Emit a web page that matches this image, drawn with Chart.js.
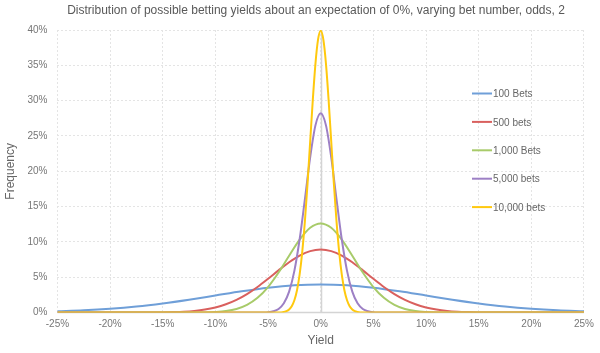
<!DOCTYPE html>
<html>
<head>
<meta charset="utf-8">
<script src="https://cdn.jsdelivr.net/npm/chart.js@4"></script>
<style>
  html, body { margin: 0; padding: 0; background: #fff; }
  #wrap { width: 600px; height: 353px; }
</style>
</head>
<body>
<div id="wrap"><canvas id="myChart"></canvas></div>
<script>
// values (yield %, frequency %)
const chartTitle = 'Distribution of possible betting yields about an expectation of 0%, varying bet number, odds, 2';
const seriesNames = ['100 Bets', '500 bets', '1,000 Bets', '5,000 bets', '10,000 bets'];
const seriesColors = ['#6f9fd8', '#d9605e', '#a8cb6a', '#9d80c5', '#ffc90e'];

const yield100 = [-25, -22.5, -20, -17.5, -15, -12.5, -10, -7.5, -5, -2.5, 0, 2.5, 5, 7.5, 10, 12.5, 15, 17.5, 20, 22.5, 25];
const freq100 = [0.18, 0.32, 0.54, 0.86, 1.30, 1.83, 2.42, 3.01, 3.52, 3.87, 3.99, 3.87, 3.52, 3.01, 2.42, 1.83, 1.30, 0.86, 0.54, 0.32, 0.18];

const yield500 = [-25, -18, -16, -15, -14, -13, -12, -11, -10, -9, -8, -7, -6, -5, -4, -3, -2, -1, 0, 1, 2, 3, 4, 5, 6, 7, 8, 9, 10, 11, 12, 13, 14, 15, 16, 18, 25];
const freq500 = [0, 0, 0.01, 0.03, 0.07, 0.13, 0.24, 0.43, 0.73, 1.18, 1.80, 2.62, 3.63, 4.78, 5.98, 7.12, 8.07, 8.70, 8.92, 8.70, 8.07, 7.12, 5.98, 4.78, 3.63, 2.62, 1.80, 1.18, 0.73, 0.43, 0.24, 0.13, 0.07, 0.03, 0.01, 0, 0];

const yield1000 = [-25, -14, -12, -11, -10, -9, -8, -7, -6, -5, -4, -3, -2, -1, 0, 1, 2, 3, 4, 5, 6, 7, 8, 9, 10, 11, 12, 14, 25];
const freq1000 = [0, 0, 0.01, 0.03, 0.09, 0.22, 0.51, 1.09, 2.09, 3.62, 5.67, 8.05, 10.33, 12.00, 12.62, 12.00, 10.33, 8.05, 5.67, 3.62, 2.09, 1.09, 0.51, 0.22, 0.09, 0.03, 0.01, 0, 0];

const yield5000 = [-25, -7, -6, -5.5, -5, -4.5, -4, -3.5, -3, -2.5, -2, -1.5, -1, -0.5, 0, 0.5, 1, 1.5, 2, 2.5, 3, 3.5, 4, 4.5, 5, 5.5, 6, 7, 25];
const freq5000 = [0, 0, 0, 0.01, 0.05, 0.18, 0.52, 1.32, 2.97, 5.91, 10.38, 16.07, 21.97, 26.50, 28.21, 26.50, 21.97, 16.07, 10.38, 5.91, 2.97, 1.32, 0.52, 0.18, 0.05, 0.01, 0, 0, 0];

const yield10000 = [-25, -5, -4.5, -4, -3.75, -3.5, -3.25, -3, -2.75, -2.5, -2.25, -2, -1.75, -1.5, -1.25, -1, -0.75, -0.5, -0.25, 0, 0.25, 0.5, 0.75, 1, 1.25, 1.5, 1.75, 2, 2.25, 2.5, 2.75, 3, 3.25, 3.5, 3.75, 4, 4.5, 5, 25];
const freq10000 = [0, 0, 0, 0.01, 0.03, 0.09, 0.20, 0.44, 0.91, 1.75, 3.17, 5.40, 8.63, 12.95, 18.26, 24.20, 30.11, 35.21, 38.66, 39.89, 38.66, 35.21, 30.11, 24.20, 18.26, 12.95, 8.63, 5.40, 3.17, 1.75, 0.91, 0.44, 0.20, 0.09, 0.03, 0.01, 0, 0, 0];

const xTicks = [-25, -20, -15, -10, -5, 0, 5, 10, 15, 20, 25];
const yTicks = [0, 5, 10, 15, 20, 25, 30, 35, 40];

const allX = [yield100, yield500, yield1000, yield5000, yield10000];
const allY = [freq100, freq500, freq1000, freq5000, freq10000];

const fontFamily = '"Liberation Sans", Arial, sans-serif';

const datasets = seriesNames.map((name, i) => ({
    label: name,
    data: allX[i].map((x, j) => ({ x: x, y: allY[i][j] })),
    borderColor: seriesColors[i],
    backgroundColor: seriesColors[i],
    borderWidth: 2,
    pointRadius: 0,
    fill: false,
    cubicInterpolationMode: 'monotone',
    order: seriesNames.length - i
}));

// title, solid zero lines and legend drawn on the canvas
const extras = {
    id: 'extras',
    beforeDatasetsDraw(chart) {
        const ctx = chart.ctx;
        const xs = chart.scales.x, ys = chart.scales.y;
        const a = chart.chartArea;
        ctx.save();
        ctx.strokeStyle = '#d4d4d4';
        ctx.lineWidth = 1.5;
        const x0 = Math.round(xs.getPixelForValue(0)) + 0.5;
        ctx.beginPath();
        ctx.moveTo(x0, a.top);
        ctx.lineTo(x0, a.bottom);
        ctx.stroke();
        const y0 = ys.getPixelForValue(0);
        ctx.beginPath();
        ctx.moveTo(a.left, y0);
        ctx.lineTo(a.right, y0);
        ctx.stroke();
        ctx.restore();
    },
    afterDraw(chart) {
        const ctx = chart.ctx;
        ctx.save();
        ctx.font = '12px ' + fontFamily;
        ctx.fillStyle = '#595959';
        ctx.textAlign = 'center';
        ctx.textBaseline = 'middle';
        ctx.fillText(chartTitle, 316, 11);

        ctx.font = '10px ' + fontFamily;
        ctx.textAlign = 'left';
        ctx.fillStyle = '#666';
        chart.data.datasets.forEach((ds, i) => {
            const y = 93.5 + i * 28.4;
            ctx.strokeStyle = ds.borderColor;
            ctx.lineWidth = 2;
            ctx.beginPath();
            ctx.moveTo(472, y);
            ctx.lineTo(492, y);
            ctx.stroke();
            ctx.fillText(ds.label, 493, y + 1);
        });
        ctx.restore();
    }
};

const config = {
    type: 'line',
    data: { datasets: datasets },
    options: {
        responsive: true,
        maintainAspectRatio: false,
        animation: false,
        layout: { padding: { left: 0, right: 2, top: 30, bottom: 0 } },
        plugins: {
            legend: { display: false },
            tooltip: { enabled: false },
            title: { display: false }
        },
        scales: {
            x: {
                type: 'linear',
                min: -25,
                max: 25,
                afterBuildTicks: (scale) => { scale.ticks = xTicks.map(v => ({ value: v })); },
                ticks: {
                    color: '#777',
                    font: { family: fontFamily, size: 10 },
                    padding: 6,
                    maxRotation: 0,
                    callback: (v) => v + '%'
                },
                grid: { color: '#e4e4e4', drawTicks: false, lineWidth: 1 },
                border: { display: false, dash: [2, 2] },
                title: {
                    display: true,
                    text: 'Yield',
                    color: '#666',
                    font: { family: fontFamily, size: 12 },
                    padding: { top: -3, bottom: 5 }
                }
            },
            y: {
                type: 'linear',
                min: 0,
                max: 40,
                afterBuildTicks: (scale) => { scale.ticks = yTicks.map(v => ({ value: v })); },
                ticks: {
                    color: '#777',
                    font: { family: fontFamily, size: 10 },
                    padding: 10,
                    callback: (v) => v + '%'
                },
                grid: { color: '#e4e4e4', drawTicks: false, lineWidth: 1 },
                border: { display: false, dash: [2, 2] },
                title: {
                    display: true,
                    text: 'Frequency',
                    color: '#666',
                    font: { family: fontFamily, size: 12 },
                    padding: { top: 3, bottom: 0 }
                }
            }
        }
    },
    plugins: [extras]
};

const myChart = new Chart(document.getElementById('myChart'), config);
</script>
</body>
</html>
